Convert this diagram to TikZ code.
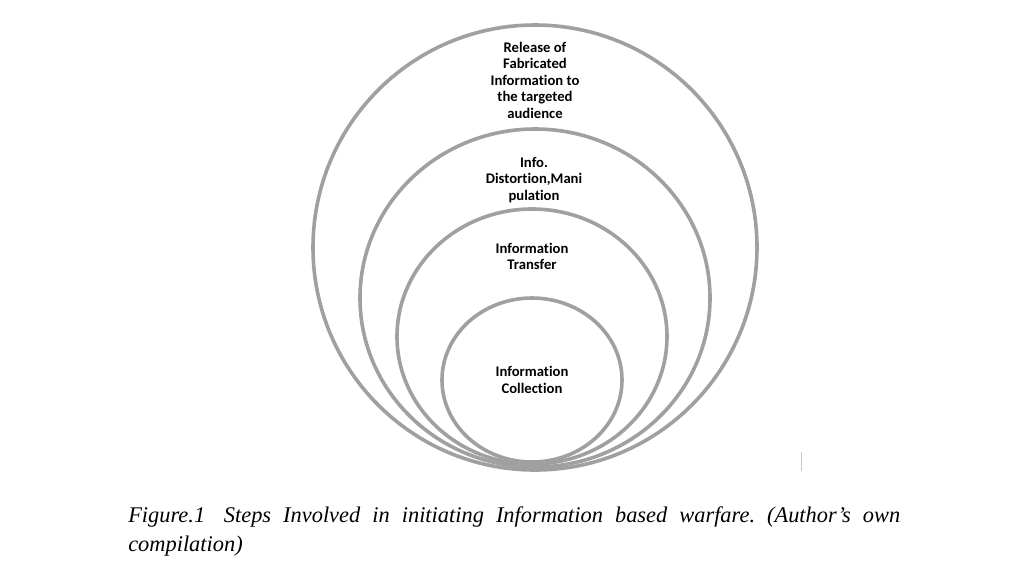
\documentclass[tikz,border=0pt]{standalone}
\usepackage{fontspec}
\setmainfont{Liberation Serif}
\newfontfamily\lblfont[Ligatures={NoCommon}]{Carlito}
\definecolor{ringgray}{RGB}{160,160,160}
\definecolor{tickgray}{RGB}{200,200,200}
\tikzset{
  ring/.style={draw=ringgray, line width=2.7pt},
  lbl/.style={font=\lblfont\bfseries\fontsize{11}{12.4}\selectfont, align=center, inner sep=0pt, text=black},
  captxt/.style={font=\itshape\fontsize{16.8}{20}\selectfont, anchor=base west, inner sep=0pt}
}
\frenchspacing
\begin{document}
\begin{tikzpicture}[x=0.75pt, y=-0.75pt]
\useasboundingbox[fill=white] (0,0) rectangle (1013,565);
% rings
\draw[ring] (535,247.5) ellipse [x radius=222, y radius=222.5];
\draw[ring] (535,298) ellipse [x radius=175, y radius=169];
\draw[ring] (532,336.5) ellipse [x radius=135, y radius=127.5];
\draw[ring] (532,380) ellipse [x radius=90, y radius=82];
% labels
\node[lbl] (release) at (535,80) {Release of\\Fabricated\\Information to\\the targeted\\audience};
\node[lbl] (distort) at (534,180) {Info.\\Distortion,Mani\\pulation};
\node[lbl] (transfer) at (532,256.5) {Information\\Transfer};
\node[lbl] (collect) at (532,380) {Information\\Collection};
% small tick
\coordinate (tka) at (801.5,452);
\coordinate (tkb) at (801.5,471);
\draw[tickgray, line width=0.8pt] (tka) -- (tkb);
% caption
\node[captxt] (cap1) at (128,522) {\frenchspacing\makebox[579pt][s]{Figure.1\hspace{5pt} Steps Involved in initiating Information based warfare. (Author’s own}};
\node[captxt] (cap2) at (128,551) {compilation)};
\end{tikzpicture}
\end{document}
